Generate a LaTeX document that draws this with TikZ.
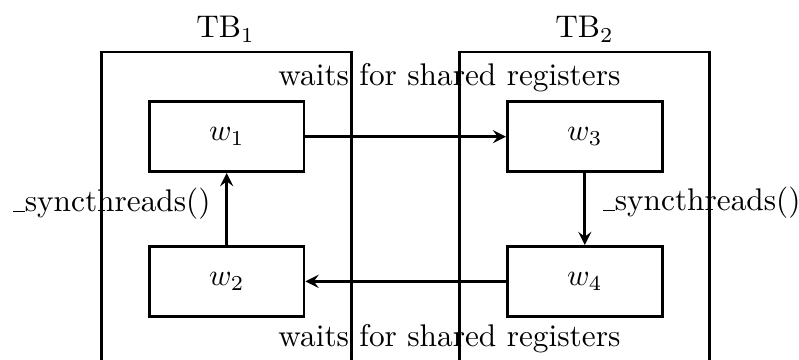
\documentclass[tikz,border=0pt]{standalone}
\usetikzlibrary{arrows}
% low underscore rule, as in the classic OT1 text font
\newcommand\lowbar{\leavevmode\kern.06em\vbox{\hrule width.37em}}
\begin{document}
\begin{tikzpicture}[x=0.3289pt,y=-0.3289pt,
  line width=0.9pt,
  >=stealth,
  every node/.style={font=\fontsize{10.3pt}{12.4pt}\selectfont},
  block/.style={draw,line width=0.9pt,minimum width=50.9pt,minimum height=23pt,inner sep=0pt},
  frame/.style={draw,line width=0.9pt,minimum width=82.2pt,minimum height=140pt,anchor=north,inner sep=0pt},
  txt/.style={inner sep=0pt,anchor=base west}]
\useasboundingbox (0,0) rectangle (799,360);
\clip (0,0) rectangle (799,360);

% thread blocks, running off the lower edge
\node[frame] (tb1) at (226.7,50.7) {};
\node[frame] (tb2) at (584.7,50.7) {};
\node[inner sep=0pt,anchor=base] (tb1lab) at (225.5,37.7) {TB$_1$};
\node[inner sep=0pt,anchor=base] (tb2lab) at (584.5,37.7) {TB$_2$};

% warps
\node[block] (w1) at (226.7,136.7) {$w_1$};
\node[block] (w2) at (226.7,281.4) {$w_2$};
\node[block] (w3) at (584.8,136.7) {$w_3$};
\node[block] (w4) at (584.8,281.4) {$w_4$};

% dependencies
\draw[->] (w1) -- (w3);
\draw[->] (w3) -- (w4);
\draw[->] (w4) -- (w2);
\draw[->] (w2) -- (w1);

% labels
\node[txt] (waittop) at (277,86) {waits for shared registers};
\node[txt] (waitbot) at (277,347) {waits for shared registers};
\node[txt] (syncl) at (10,212) {\lowbar syncthreads()};
\node[txt] (syncr) at (600,211) {\lowbar syncthreads()};
\end{tikzpicture}
\end{document}
